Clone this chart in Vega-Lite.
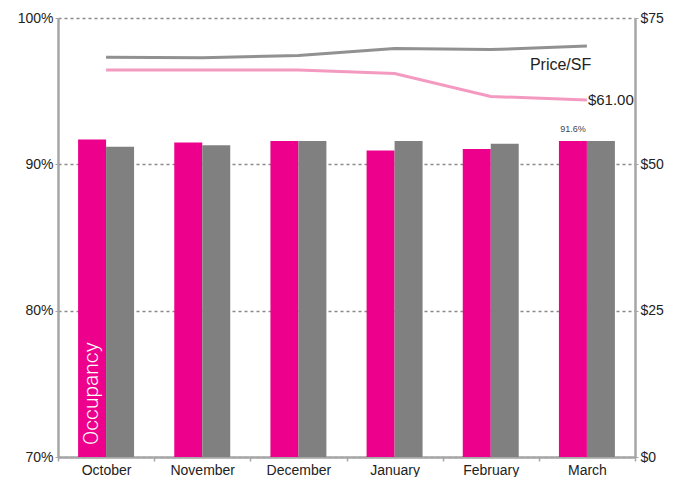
{
  "$schema": "https://vega.github.io/schema/vega-lite/v6.json",
  "width": 577,
  "height": 439,
  "autosize": {"type": "none"},
  "padding": {"left": 58, "top": 18, "right": 49, "bottom": 20},
  "config": {
    "view": {"stroke": null},
    "font": "Liberation Sans",
    "axis": {"labelFont": "Liberation Sans", "labelColor": "#222222", "labelFontSize": 14}
  },
  "datasets": {
    "bars": [
      {"month": "October", "series": "Occupancy", "value": 91.7},
      {"month": "October", "series": "Other", "value": 91.2},
      {"month": "November", "series": "Occupancy", "value": 91.5},
      {"month": "November", "series": "Other", "value": 91.3},
      {"month": "December", "series": "Occupancy", "value": 91.6},
      {"month": "December", "series": "Other", "value": 91.6},
      {"month": "January", "series": "Occupancy", "value": 90.95},
      {"month": "January", "series": "Other", "value": 91.6},
      {"month": "February", "series": "Occupancy", "value": 91.05},
      {"month": "February", "series": "Other", "value": 91.4},
      {"month": "March", "series": "Occupancy", "value": 91.6},
      {"month": "March", "series": "Other", "value": 91.6}
    ],
    "barnotes": [
      {"month": "March", "series": "Occupancy", "value": 91.6, "text": "91.6%", "kind": "value"},
      {"month": "October", "series": "Occupancy", "value": 70, "text": "Occupancy", "kind": "title"}
    ],
    "lines": [
      {"month": "October", "series": "Price/SF", "value": 68.3},
      {"month": "November", "series": "Price/SF", "value": 68.2},
      {"month": "December", "series": "Price/SF", "value": 68.6},
      {"month": "January", "series": "Price/SF", "value": 69.8},
      {"month": "February", "series": "Price/SF", "value": 69.6},
      {"month": "March", "series": "Price/SF", "value": 70.2},
      {"month": "October", "series": "Rate", "value": 66.1},
      {"month": "November", "series": "Rate", "value": 66.1},
      {"month": "December", "series": "Rate", "value": 66.1},
      {"month": "January", "series": "Rate", "value": 65.5},
      {"month": "February", "series": "Rate", "value": 61.6},
      {"month": "March", "series": "Rate", "value": 61.0}
    ],
    "linenotes": [
      {"month": "March", "value": 67.0, "text": "Price/SF", "kind": "title"},
      {"month": "March", "value": 61.0, "text": "$61.00", "kind": "value"}
    ]
  },
  "encoding": {
    "x": {
      "field": "month",
      "type": "nominal",
      "sort": ["October", "November", "December", "January", "February", "March"],
      "scale": {"paddingInner": 0, "paddingOuter": 0},
      "axis": {
        "title": null,
        "labelAngle": 0,
        "tickBand": "extent",
        "domainColor": "#A6A6A6",
        "domainWidth": 2.5,
        "tickColor": "#A6A6A6",
        "tickWidth": 1.5,
        "tickSize": 4,
        "labelPadding": 2
      }
    }
  },
  "layer": [
    {
      "layer": [
        {
          "data": {"name": "bars"},
          "mark": {"type": "bar"},
          "encoding": {
            "xOffset": {"field": "series", "type": "nominal", "scale": {"domain": ["Occupancy", "Other"], "paddingInner": 0, "paddingOuter": 0.718}},
            "y": {
              "field": "value",
              "type": "quantitative",
              "scale": {"domain": [70, 100], "zero": false, "nice": false},
              "axis": {
                "title": null,
                "orient": "left",
                "values": [70, 80, 90, 100],
                "labelExpr": "datum.value + '%'",
                "grid": true,
                "gridDash": [3, 3],
                "gridColor": "#8A8A8A",
                "gridWidth": 1.5,
                "domainColor": "#A6A6A6",
                "domainWidth": 2.5,
                "tickColor": "#A6A6A6",
                "tickSize": 3,
                "labelPadding": 2
              }
            },
            "y2": {"datum": 70},
            "color": {"field": "series", "type": "nominal", "scale": {"domain": ["Occupancy", "Other"], "range": ["#EC008C", "#808080"]}, "legend": null}
          }
        },
        {
          "data": {"name": "barnotes"},
          "transform": [{"filter": "datum.kind == 'value'"}],
          "mark": {"type": "text", "fontSize": 9, "color": "#444444", "baseline": "bottom", "dy": -7},
          "encoding": {
            "xOffset": {"field": "series", "type": "nominal", "scale": {"domain": ["Occupancy", "Other"]}},
            "y": {"field": "value", "type": "quantitative"},
            "text": {"field": "text"}
          }
        },
        {
          "data": {"name": "barnotes"},
          "transform": [{"filter": "datum.kind == 'title'"}],
          "mark": {"type": "text", "font": "Roboto", "fontWeight": 300, "fontSize": 21, "color": "#FFFFFF", "angle": 270, "align": "left", "baseline": "middle", "dx": 12},
          "encoding": {
            "xOffset": {"field": "series", "type": "nominal", "scale": {"domain": ["Occupancy", "Other"]}},
            "y": {"field": "value", "type": "quantitative"},
            "text": {"field": "text"}
          }
        }
      ]
    },
    {
      "layer": [
        {
          "data": {"name": "lines"},
          "mark": {"type": "line", "strokeWidth": 3},
          "encoding": {
            "y": {
              "field": "value",
              "type": "quantitative",
              "scale": {"domain": [0, 75], "nice": false},
              "axis": {
                "title": null,
                "orient": "right",
                "values": [0, 25, 50, 75],
                "format": "$.0f",
                "grid": false,
                "domainColor": "#A6A6A6",
                "domainWidth": 2.5,
                "tickColor": "#A6A6A6",
                "tickSize": 3,
                "labelPadding": 2
              }
            },
            "color": {"field": "series", "type": "nominal", "scale": {"domain": ["Price/SF", "Rate"], "range": ["#919191", "#F49AC1"]}, "legend": null}
          }
        },
        {
          "data": {"name": "linenotes"},
          "transform": [{"filter": "datum.kind == 'title'"}],
          "mark": {"type": "text", "fontSize": 16, "color": "#222222", "align": "left", "baseline": "middle", "dx": -57},
          "encoding": {
            "y": {"field": "value", "type": "quantitative"},
            "text": {"field": "text"}
          }
        },
        {
          "data": {"name": "linenotes"},
          "transform": [{"filter": "datum.kind == 'value'"}],
          "mark": {"type": "text", "fontSize": 15, "color": "#222222", "align": "left", "baseline": "middle", "dx": 1},
          "encoding": {
            "y": {"field": "value", "type": "quantitative"},
            "text": {"field": "text"}
          }
        }
      ]
    }
  ],
  "resolve": {"scale": {"y": "independent", "color": "independent"}, "axis": {"y": "independent"}}
}
